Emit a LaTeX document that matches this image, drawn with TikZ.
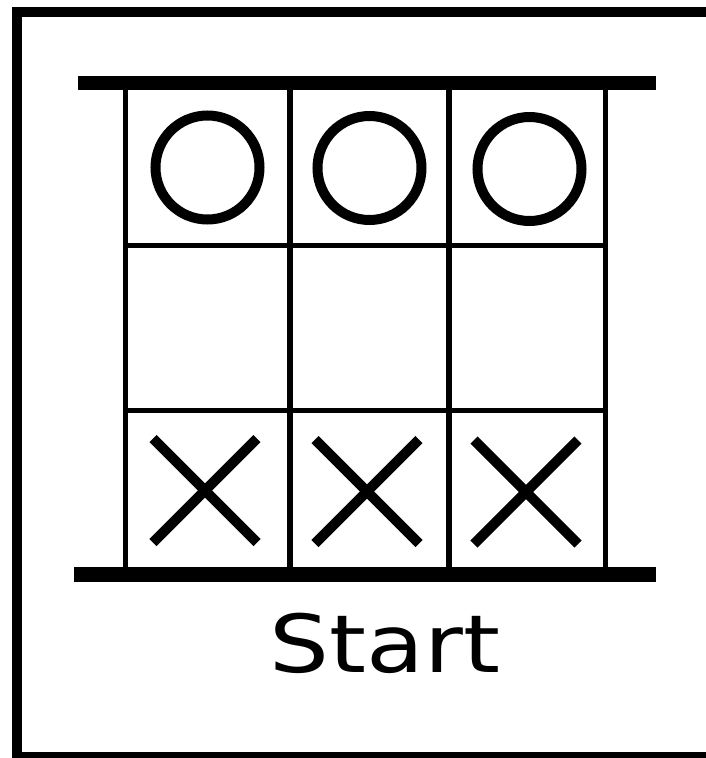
\documentclass[tikz,border=0pt]{standalone}
\usepackage{fontspec}
\setmainfont{DejaVu Sans}
\begin{document}
\begin{tikzpicture}[x=1pt,y=-1pt,
  frameline/.style={line width=10pt},
  barline/.style={line width=14.5pt},
  gridline/.style={line width=5.5pt},
  markline/.style={line width=10pt}]
\useasboundingbox (0,0) rectangle (706,758);
\clip (0,0) rectangle (706,758);
% outer frame (cropped at right and bottom)
\draw[frameline] (17,12) rectangle (712,757);
% top and bottom bars
\draw[barline] (78,83) -- (656,83);
\draw[barline] (74,574.5) -- (656,574.5);
% vertical grid lines
\foreach \x in {125.5,290,449,605.5}
  \draw[gridline] (\x,90) -- (\x,567);
% horizontal grid lines
\foreach \y in {245.5,410.3}
  \draw[gridline] (125.5,\y) -- (605.5,\y);
% circles
\foreach \cx/\cy in {207.5/167.5,369.5/168,529.5/169}
  \draw[markline] (\cx,\cy) circle (52);
% crosses
\foreach \cx/\cy in {205/490.5,367/491.5,526/492}{
  \draw[markline] (\cx-52,\cy-52) -- (\cx+52,\cy+52);
  \draw[markline] (\cx+52,\cy-52) -- (\cx-52,\cy+52);
}
% label
\node[inner sep=0pt, anchor=base, xscale=1.18, font=\fontsize{80}{80}\selectfont] (start) at (385,672) {Start};
\end{tikzpicture}
\end{document}
